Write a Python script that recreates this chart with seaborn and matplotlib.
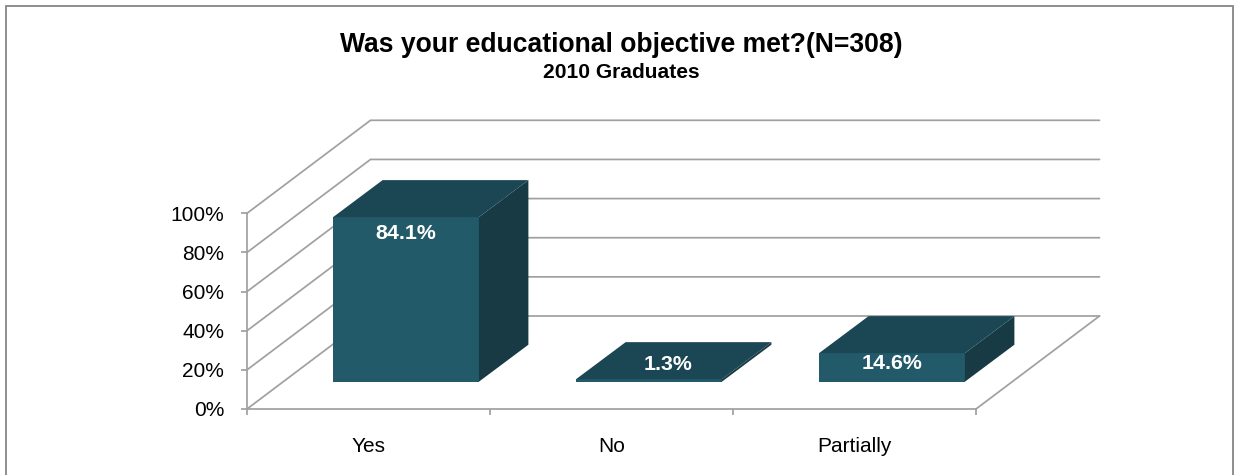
import matplotlib

matplotlib.use("Agg")
import matplotlib.pyplot as plt
import pandas as pd
import seaborn as sns
from matplotlib.patches import Polygon, Rectangle

categories = ["Yes", "No", "Partially"]
percents = [84.1, 1.3, 14.6]
value_labels = ["84.1%", "1.3%", "14.6%"]
y_ticks = [0, 20, 40, 60, 80, 100]
y_tick_labels = ["0%", "20%", "40%", "60%", "80%", "100%"]

W, H = 1236, 475
FRONT = "#235a69"
TOP = "#1b4653"
SIDE = "#173a44"
GRID = "#a0a0a0"

sns.set_theme(style="white")
plt.rcParams["font.family"] = ["Liberation Sans", "DejaVu Sans"]

fig = plt.figure(figsize=(W / 100, H / 100), dpi=100, facecolor="white")


# pixel box -> figure fractions
def px_box(left, right, bottom, top):
    return [left / W, 1 - bottom / H, (right - left) / W, (bottom - top) / H]


# outer frame, bottom edge falls off the picture
fig.add_artist(Rectangle((6 / W, -0.05), 1227 / W, 1.05 - 6 / H, transform=fig.transFigure,
                         fill=False, edgecolor="#868686", linewidth=1.3))

fig.text(621 / W, 1 - 52.3 / H, "Was your educational objective met?(N=308)", ha="center", va="baseline",
         fontsize=19.1, fontweight="bold", color="black")
fig.text(621 / W, 1 - 77.7 / H, "2010 Graduates", ha="center", va="baseline",
         fontsize=15.1, fontweight="bold", color="black")

# floor / walls
ax = fig.add_axes(px_box(247, 976, 409, 213.3))
ax.patch.set_alpha(0)
ax.set_xlim(-0.5, 2.5)
ax.set_ylim(0, 100)

x_per_px = 3 / 729
y_per_px = 100 / 195.7
wall_dx = 123.5 * x_per_px
wall_dy = 93 * y_per_px

for tick in y_ticks:
    ax.plot([-0.5, -0.5 + wall_dx, 2.5 + wall_dx], [tick, tick + wall_dy, tick + wall_dy],
            color=GRID, lw=1.25, clip_on=False, solid_joinstyle="miter")
ax.plot([2.5, 2.5 + wall_dx], [0, wall_dy], color=GRID, lw=1.25, clip_on=False)

sns.despine(ax=ax, top=True, right=True)
for side in ["left", "bottom"]:
    ax.spines[side].set_color(GRID)
    ax.spines[side].set_linewidth(1.25)

ax.set_yticks(y_ticks, y_tick_labels)
ax.set_xticks([-0.5, 0.5, 1.5, 2.5], ["", "", "", ""])
ax.set_xticks([0, 1, 2], categories, minor=True)
ax.tick_params(axis="y", left=True, length=4, width=1.25, color=GRID, labelsize=15, labelcolor="black", pad=12.5)
ax.tick_params(axis="x", which="major", bottom=True, length=4, width=1.25, color=GRID)
ax.tick_params(axis="x", which="minor", bottom=False, length=0, labelsize=15, labelcolor="black", pad=20)

# bars sit part way back on the floor
bar_ax = fig.add_axes(px_box(247 + 37.5, 976 + 37.5, 409 - 27.3, 213.3 - 27.3))
bar_ax.patch.set_alpha(0)
df = pd.DataFrame({"answer": categories, "percent": percents})
sns.barplot(data=df, x="answer", y="percent", ax=bar_ax, color=FRONT, saturation=1, width=0.6, linewidth=0)
bar_ax.set_xlim(-0.5, 2.5)
bar_ax.set_ylim(0, 100)
bar_ax.axis("off")

bar_dx = 49.5 * x_per_px
bar_dy = 37 * y_per_px
half = 0.3

for i, value in enumerate(percents):
    top_face = [(i - half, value), (i + half, value), (i + half + bar_dx, value + bar_dy), (i - half + bar_dx, value + bar_dy)]
    side_face = [(i + half, 0), (i + half + bar_dx, bar_dy), (i + half + bar_dx, value + bar_dy), (i + half, value)]
    bar_ax.add_patch(Polygon(side_face, closed=True, facecolor=SIDE, edgecolor="none", clip_on=False))
    bar_ax.add_patch(Polygon(top_face, closed=True, facecolor=TOP, edgecolor="none", clip_on=False))

# value labels, offsets in points from the bar's front top centre
label_offsets = [(0, -11.5), (14, 10.5), (0, -7.5)]
for i, value in enumerate(percents):
    bar_ax.annotate(value_labels[i], xy=(i, value), xytext=label_offsets[i], textcoords="offset points",
                    ha="center", va="center", color="white", fontsize=15.4, fontweight="bold", annotation_clip=False)

fig.savefig("out.png", dpi=100, facecolor="white")
